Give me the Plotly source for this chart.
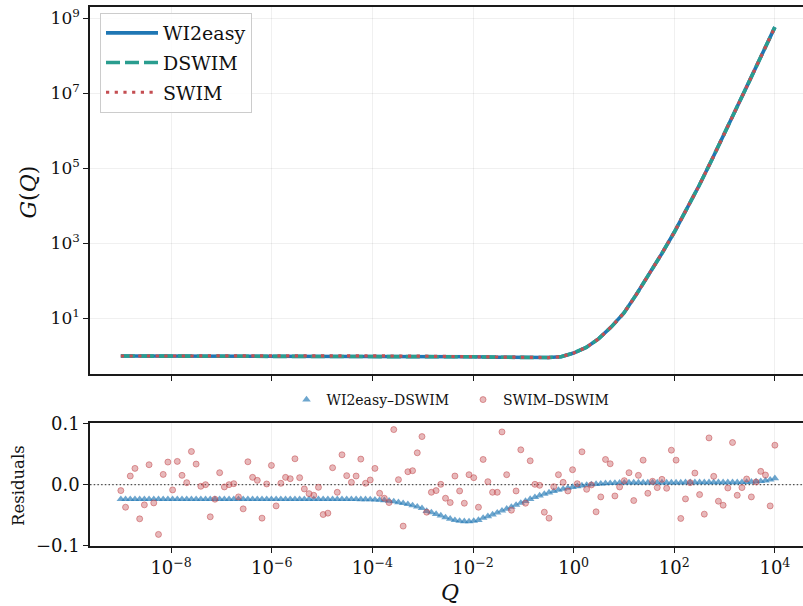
import numpy as np
import plotly.graph_objects as go

# ---------------- data ----------------
# top panel: G(Q) for the three methods
Q_TOP = [1e-9, 1e-8, 1e-7, 1e-6, 1e-5, 1e-4, 1e-3, 3.16e-3, 1e-2, 3.16e-2,
         0.1, 0.316, 0.562, 1.0, 1.78, 3.16, 5.62, 10.0, 17.8, 31.6,
         56.2, 100.0, 178.0, 316.0, 562.0, 1000.0, 1780.0, 3160.0, 5620.0, 10000.0]
G_WI2EASY = [1.0, 1.0, 1.0, 1.0, 1.0, 1.0, 0.99, 0.975, 0.955, 0.93,
             0.91, 0.91, 0.96, 1.2, 1.7, 2.9, 6.0, 14.1, 44.7, 150.0,
             531.0, 1995.0, 8130.0, 3.63e4, 1.74e5, 8.51e5, 4.37e6, 2.24e7, 1.15e8, 5.89e8]
G_DSWIM = [1.0, 1.0, 1.0, 1.0, 1.0, 1.0, 0.99, 0.975, 0.955, 0.93,
           0.91, 0.91, 0.96, 1.2, 1.7, 2.9, 6.0, 14.1, 44.7, 150.0,
           531.0, 1995.0, 8130.0, 3.63e4, 1.74e5, 8.51e5, 4.37e6, 2.24e7, 1.15e8, 5.89e8]
G_SWIM = [1.0, 1.01, 0.99, 1.01, 1.0, 1.01, 0.99, 0.975, 0.955, 0.93,
          0.91, 0.91, 0.96, 1.2, 1.7, 2.9, 6.0, 14.1, 44.7, 150.0,
          531.0, 1995.0, 8130.0, 3.63e4, 1.74e5, 8.51e5, 4.37e6, 2.24e7, 1.15e8, 5.89e8]

# bottom panel: residuals on a log grid of 140 points, 1e-9 .. 1e4
Q_RES = np.logspace(-9, 4, 140)

RES_WI2EASY = [
    -0.024, -0.024, -0.024, -0.024, -0.024, -0.024, -0.024, -0.024, -0.024, -0.024,
    -0.024, -0.024, -0.024, -0.024, -0.024, -0.024, -0.024, -0.024, -0.024, -0.024,
    -0.024, -0.024, -0.024, -0.024, -0.024, -0.024, -0.024, -0.024, -0.024, -0.024,
    -0.024, -0.024, -0.024, -0.024, -0.024, -0.024, -0.024, -0.024, -0.024, -0.024,
    -0.024, -0.024, -0.024, -0.024, -0.024, -0.024, -0.024, -0.024, -0.024, -0.024,
    -0.0240, -0.0241, -0.0242, -0.0244, -0.0247, -0.0252, -0.0258, -0.0266, -0.0277, -0.0290,
    -0.0305, -0.0322, -0.0342, -0.0364, -0.0388,
    -0.0435, -0.0458, -0.0484, -0.0510, -0.0540, -0.0563, -0.0585, -0.0598, -0.0605, -0.0606,
    -0.0598, -0.0584,
    -0.0548, -0.0522, -0.0492, -0.0462, -0.0430, -0.0399, -0.0367, -0.0334, -0.0302, -0.0270,
    -0.0238, -0.0207, -0.0180, -0.0154, -0.0130, -0.0108, -0.0088, -0.0070, -0.0054, -0.0040,
    -0.0027, -0.0015, -0.0005, 0.0003, 0.0010, 0.0016, 0.0021, 0.0025, 0.0028, 0.0031,
    0.0033,
    0.0035, 0.0035, 0.0035, 0.0035, 0.0035, 0.0035, 0.0035, 0.0035, 0.0035, 0.0035,
    0.0035, 0.0035, 0.0038, 0.0038, 0.0038, 0.0038, 0.0038, 0.0038, 0.0038, 0.0038,
    0.0038, 0.0038, 0.0038, 0.0038,
    0.0040, 0.0043, 0.0046, 0.0050, 0.0057, 0.0068, 0.0082, 0.0105,
]

RES_SWIM = [
    -0.0098, -0.0372, 0.0142, 0.0268, -0.0563, -0.0333, 0.0328, -0.0301, -0.0820, 0.0169,
    0.0372, -0.0087, 0.0383, 0.0153, 0.0033, 0.0546, 0.0339, -0.0027, 0.0000, -0.0530,
    -0.0240, 0.0197, -0.0038, 0.0000, 0.0016, -0.0202, -0.0399, 0.0377, 0.0120, 0.0071,
    -0.0552, 0.0011, 0.0317, -0.0350, 0.0022, 0.0120, 0.0098, 0.0426, 0.0115, -0.0071,
    -0.0148, -0.0175, -0.0044, -0.0492, -0.0470, 0.0279, -0.0126, 0.0492, 0.0148, 0.0038,
    0.0142, 0.0421, 0.0022, 0.0077, 0.0268, -0.0142, -0.0224, -0.0295, 0.0907, 0.0082,
    -0.0683, 0.0213, 0.0230, 0.0525, 0.0792, -0.0454, -0.0126, -0.0098, 0.0005, -0.0224,
    -0.0295, 0.0142, -0.0104, -0.0306, 0.0164, 0.0115, -0.0372, 0.0415, 0.0049, -0.0126,
    -0.0126, 0.0869, 0.0164, -0.0421, -0.0104, 0.0574, -0.0306, 0.0393, 0.0005, -0.0011,
    -0.0454, -0.0552, -0.0033, 0.0164, 0.0038, -0.0104, 0.0246, 0.0016, 0.0541, -0.0077,
    -0.0005, -0.0448, -0.0202, 0.0415, 0.0344, -0.0186, -0.0038, 0.0066, 0.0197, -0.0262,
    0.0153, 0.0404, -0.0142, 0.0055, -0.0049, 0.0087, -0.0060, 0.0568, 0.0404, -0.0557,
    -0.0235, 0.0033, 0.0191, -0.0164, -0.0486, 0.0770, 0.0137, -0.0273, -0.0339, -0.0055,
    0.0694, -0.0175, -0.0049, 0.0093, -0.0202, 0.0044, 0.0219, 0.0158, -0.0350, 0.0650,
]

X_TICKS = [1e-8, 1e-6, 1e-4, 1e-2, 1e0, 1e2, 1e4]
X_TICKTEXT = ["10<sup>\u22128</sup>", "10<sup>\u22126</sup>", "10<sup>\u22124</sup>",
              "10<sup>\u22122</sup>", "10<sup>0</sup>", "10<sup>2</sup>", "10<sup>4</sup>"]
Y_TICKS = [1e1, 1e3, 1e5, 1e7, 1e9]
Y_TICKTEXT = ["10<sup>1</sup>", "10<sup>3</sup>", "10<sup>5</sup>", "10<sup>7</sup>", "10<sup>9</sup>"]
R_TICKS = [-0.1, 0.0, 0.1]
R_TICKTEXT = ["\u22120.1", "0.0", "0.1"]

FONT = "DejaVu Serif"
C_BLUE = "#1f77b4"
C_TEAL = "#2a9d8f"
C_RED = "#c44e52"
NB = "\u00a0"

fig = go.Figure()

fig.add_trace(go.Scatter(x=Q_TOP, y=G_WI2EASY, mode="lines", name="WI2easy",
                         line=dict(color=C_BLUE, width=3.6), xaxis="x", yaxis="y",
                         legend="legend", legendgroup="a"))
fig.add_trace(go.Scatter(x=Q_TOP, y=G_DSWIM, mode="lines", name="DSWIM",
                         line=dict(color=C_TEAL, width=3.6, dash="14px,5px"), xaxis="x", yaxis="y",
                         legend="legend", legendgroup="b"))
fig.add_trace(go.Scatter(x=Q_TOP, y=G_SWIM, mode="lines", name="SWIM",
                         line=dict(color=C_RED, width=3.2, dash="3.2px,5.5px"), xaxis="x", yaxis="y",
                         legend="legend", legendgroup="c"))

fig.add_trace(go.Scatter(x=Q_RES, y=RES_WI2EASY, mode="markers",
                         name="WI2easy\u2013DSWIM" + NB * 2,
                         marker=dict(symbol="triangle-up", size=7.5, color="rgba(31,119,180,0.65)",
                                     line=dict(width=0)),
                         xaxis="x2", yaxis="y2", legend="legend2"))
fig.add_trace(go.Scatter(x=Q_RES, y=RES_SWIM, mode="markers", name="SWIM\u2013DSWIM",
                         marker=dict(symbol="circle", size=6, color="rgba(196,78,82,0.4)",
                                     line=dict(width=1, color="rgba(196,78,82,0.55)")),
                         xaxis="x2", yaxis="y2", legend="legend2"))

W, H = 803, 606
L = 90
XR = [-9.613, 4.559]

axis_common = dict(showline=True, linecolor="#1a1a1a", linewidth=1.6,
                   ticks="outside", ticklen=5, tickwidth=1.4, tickcolor="#1a1a1a",
                   showgrid=True, gridcolor="rgba(0,0,0,0.06)", gridwidth=1,
                   zeroline=False, automargin=False,
                   tickfont=dict(family=FONT, size=18, color="#111"))

fig.update_layout(
    width=W, height=H,
    margin=dict(l=L, r=0, t=0, b=0),
    paper_bgcolor="white", plot_bgcolor="white",
    font=dict(family=FONT, color="#111"),
    xaxis=dict(axis_common, type="log", range=XR, domain=[0, 1], anchor="y",
               tickvals=X_TICKS, showticklabels=False, mirror=True),
    yaxis=dict(axis_common, type="log", range=[-0.488, 9.30], domain=[0.3823, 0.9880],
               anchor="x", tickvals=Y_TICKS, ticktext=Y_TICKTEXT, mirror=False,
               tickfont=dict(family=FONT, size=17, color="#111")),
    xaxis2=dict(axis_common, type="log", range=XR, domain=[0, 1], anchor="y2",
                matches="x", tickvals=X_TICKS, ticktext=X_TICKTEXT, mirror=True),
    yaxis2=dict(axis_common, range=[-0.1011, 0.1011], domain=[0.0990, 0.3015],
                anchor="x2", tickvals=R_TICKS, ticktext=R_TICKTEXT, mirror=False),
    legend=dict(x=(100 - L) / (W - L), y=1 - 13 / H, xanchor="left", yanchor="top",
                bgcolor="rgba(255,255,255,0.85)", bordercolor="#cccccc", borderwidth=1,
                font=dict(family=FONT, size=19, color="#111"), tracegroupgap=2,
                itemwidth=52, traceorder="grouped"),
    legend2=dict(orientation="h", x=(450.5 - L) / (W - L), y=1 - 400 / H,
                 xanchor="center", yanchor="middle", bgcolor="rgba(0,0,0,0)",
                 font=dict(family=FONT, size=14.0, color="#111"), itemwidth=30),
    showlegend=True,
)

fig.add_shape(type="line", xref="x2 domain", yref="y2", x0=0, x1=1, y0=0, y1=0,
              line=dict(color="#555555", width=1.2, dash="1.5px,2.2px"), layer="below")

fig.add_annotation(text="<i>G</i>(<i>Q</i>)", xref="paper", yref="paper",
                   x=(27.5 - L) / (W - L), y=1 - 192 / H, textangle=-90, showarrow=False,
                   font=dict(family=FONT, size=22, color="#111"), xanchor="center", yanchor="middle")
fig.add_annotation(text="Residuals", xref="paper", yref="paper",
                   x=(18 - L) / (W - L), y=1 - 486 / H, textangle=-90, showarrow=False,
                   font=dict(family=FONT, size=16.5, color="#111"), xanchor="center", yanchor="middle")
fig.add_annotation(text="<i>Q</i>", xref="paper", yref="paper",
                   x=(450 - L) / (W - L), y=1 - 592 / H, showarrow=False,
                   font=dict(family=FONT, size=22, color="#111"), xanchor="center", yanchor="middle")

fig.write_html("out.html", config={"displayModeBar": False},
               post_script="document.body.style.margin='0px';document.body.style.overflow='hidden';")
